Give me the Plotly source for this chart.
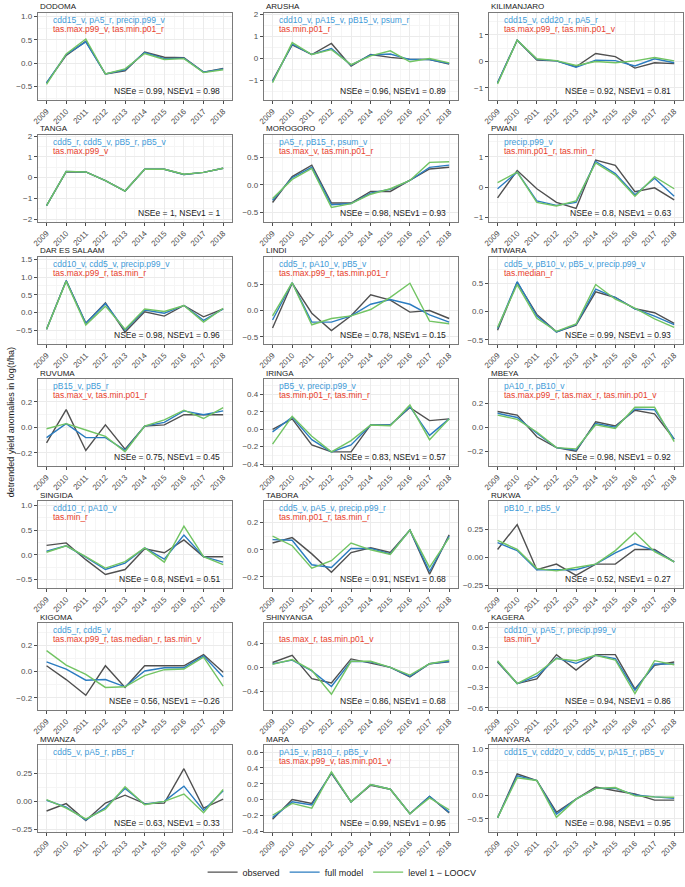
import plotly.graph_objects as go

years = list(range(2009, 2019))

regions = ["DODOMA", "ARUSHA", "KILIMANJARO", "TANGA", "MOROGORO", "PWANI",
           "DAR ES SALAAM", "LINDI", "MTWARA", "RUVUMA", "IRINGA", "MBEYA",
           "SINGIDA", "TABORA", "RUKWA", "KIGOMA", "SHINYANGA", "KAGERA",
           "MWANZA", "MARA", "MANYARA"]

# ---- series: observed / full model / level 1 - LOOCV ----
dodoma_obs   = [-0.42, 0.17, 0.47, -0.23, -0.16, 0.24, 0.13, 0.12, -0.19, -0.11]
dodoma_full  = [-0.42, 0.19, 0.46, -0.23, -0.14, 0.23, 0.10, 0.11, -0.19, -0.12]
dodoma_loocv = [-0.45, 0.20, 0.52, -0.23, -0.12, 0.21, 0.08, 0.10, -0.20, -0.14]

arusha_obs   = [-1.00, 0.62, 0.18, 0.68, -0.35, 0.18, 0.05, -0.03, -0.05, -0.25]
arusha_full  = [-1.05, 0.65, 0.18, 0.45, -0.30, 0.16, 0.20, -0.05, -0.05, -0.23]
arusha_loocv = [-1.10, 0.72, 0.18, 0.40, -0.28, 0.12, 0.35, -0.15, 0.00, -0.20]

kilimanjaro_obs   = [-0.80, 0.80, 0.05, 0.02, -0.20, 0.30, 0.18, -0.25, -0.05, -0.08]
kilimanjaro_full  = [-0.80, 0.80, 0.08, 0.02, -0.22, 0.05, 0.03, -0.17, 0.10, -0.05]
kilimanjaro_loocv = [-0.85, 0.80, 0.10, 0.03, -0.15, 0.00, -0.05, 0.02, 0.15, 0.02]

tanga_obs   = [-1.35, 0.28, 0.27, -0.15, -0.65, 0.40, 0.40, 0.15, 0.25, 0.45]
tanga_full  = [-1.35, 0.30, 0.27, -0.15, -0.65, 0.40, 0.40, 0.15, 0.25, 0.45]
tanga_loocv = [-1.35, 0.30, 0.27, -0.15, -0.65, 0.40, 0.40, 0.16, 0.25, 0.45]

morogoro_obs   = [-0.32, 0.15, 0.36, -0.33, -0.33, -0.12, -0.12, 0.08, 0.29, 0.32]
morogoro_full  = [-0.28, 0.13, 0.32, -0.36, -0.34, -0.15, -0.08, 0.08, 0.32, 0.36]
morogoro_loocv = [-0.25, 0.10, 0.30, -0.41, -0.34, -0.17, -0.07, 0.08, 0.41, 0.42]

pwani_obs   = [-0.35, 0.55, -0.05, -0.50, -0.70, 0.90, 0.72, -0.15, -0.02, -0.42]
pwani_full  = [-0.05, 0.50, -0.45, -0.60, -0.50, 0.85, 0.45, -0.25, 0.30, -0.30]
pwani_loocv = [0.15, 0.50, -0.50, -0.62, -0.45, 0.80, 0.40, -0.30, 0.35, -0.05]

dar_obs   = [-0.47, 0.90, -0.30, 0.27, -0.55, 0.02, -0.10, 0.20, -0.12, 0.10]
dar_full  = [-0.47, 0.90, -0.30, 0.25, -0.50, 0.07, -0.02, 0.20, -0.22, 0.10]
dar_loocv = [-0.47, 0.88, -0.35, 0.18, -0.47, 0.10, 0.03, 0.20, -0.27, 0.12]

lindi_obs   = [-0.33, 0.52, -0.05, -0.38, -0.10, 0.30, 0.20, -0.03, 0.00, -0.15]
lindi_full  = [-0.18, 0.53, -0.22, -0.22, -0.10, 0.12, 0.21, 0.12, -0.08, -0.22]
lindi_loocv = [-0.10, 0.53, -0.27, -0.15, -0.10, 0.02, 0.25, 0.52, -0.20, -0.25]

mtwara_obs   = [-0.33, 0.52, -0.05, -0.36, -0.24, 0.35, 0.25, 0.05, -0.02, -0.21]
mtwara_full  = [-0.30, 0.53, -0.08, -0.36, -0.23, 0.40, 0.25, 0.05, -0.08, -0.23]
mtwara_loocv = [-0.28, 0.48, -0.12, -0.35, -0.22, 0.48, 0.22, 0.06, -0.13, -0.28]

ruvuma_obs   = [-0.12, 0.14, -0.18, 0.02, -0.17, 0.01, 0.02, 0.10, 0.10, 0.10]
ruvuma_full  = [-0.08, 0.03, -0.08, -0.08, -0.18, 0.01, 0.04, 0.13, 0.10, 0.13]
ruvuma_loocv = [-0.01, 0.03, -0.02, -0.07, -0.19, 0.01, 0.06, 0.135, 0.07, 0.155]

iringa_obs   = [0.00, 0.12, -0.18, -0.26, -0.26, 0.05, 0.05, 0.25, 0.10, 0.12]
iringa_full  = [-0.03, 0.14, -0.12, -0.26, -0.18, 0.05, 0.05, 0.26, -0.07, 0.12]
iringa_loocv = [-0.17, 0.15, -0.08, -0.26, -0.13, 0.05, 0.04, 0.28, -0.12, 0.12]

mbeya_obs   = [0.13, 0.10, -0.08, -0.17, -0.20, 0.045, 0.01, 0.14, 0.11, -0.10]
mbeya_full  = [0.115, 0.08, -0.05, -0.17, -0.19, 0.03, 0.00, 0.15, 0.145, -0.10]
mbeya_loocv = [0.10, 0.065, -0.04, -0.17, -0.18, 0.02, -0.01, 0.165, 0.165, -0.12]

singida_obs   = [0.19, 0.24, -0.10, -0.40, -0.30, 0.12, 0.04, 0.30, -0.04, -0.04]
singida_full  = [0.07, 0.18, -0.05, -0.30, -0.17, 0.14, -0.09, 0.40, -0.04, -0.15]
singida_loocv = [0.05, 0.18, -0.04, -0.27, -0.14, 0.14, -0.15, 0.58, -0.04, -0.20]

tabora_obs   = [0.05, 0.09, -0.03, -0.165, -0.02, 0.015, -0.02, 0.145, -0.18, 0.11]
tabora_full  = [0.075, 0.07, -0.11, -0.13, 0.01, 0.01, -0.03, 0.145, -0.16, 0.10]
tabora_loocv = [0.10, 0.03, -0.135, -0.08, 0.05, 0.00, -0.035, 0.145, -0.13, 0.09]

rukwa_obs   = [0.07, 0.29, -0.11, -0.06, -0.16, -0.06, -0.06, 0.07, 0.07, -0.04]
rukwa_full  = [0.13, 0.06, -0.11, -0.11, -0.11, -0.06, 0.04, 0.12, 0.06, -0.04]
rukwa_loocv = [0.15, 0.07, -0.10, -0.12, -0.09, -0.06, 0.06, 0.22, 0.05, -0.04]

kigoma_obs   = [0.045, -0.06, -0.18, 0.045, -0.12, 0.045, 0.045, 0.045, 0.13, -0.005]
kigoma_full  = [0.075, 0.02, -0.065, -0.06, -0.115, 0.005, 0.03, 0.03, 0.12, -0.04]
kigoma_loocv = [0.16, 0.05, -0.02, -0.12, -0.115, -0.03, 0.015, 0.02, 0.11, -0.11]

shinyanga_obs   = [0.08, 0.20, -0.19, -0.26, 0.14, 0.07, 0.00, -0.16, 0.06, 0.09]
shinyanga_full  = [0.06, 0.12, -0.06, -0.32, 0.10, 0.09, 0.00, -0.15, 0.06, 0.10]
shinyanga_loocv = [0.05, 0.13, -0.05, -0.45, 0.10, 0.10, 0.00, -0.13, 0.06, 0.12]

kagera_obs   = [0.08, -0.24, -0.17, 0.19, -0.04, 0.19, 0.19, -0.32, 0.03, 0.08]
kagera_full  = [0.09, -0.24, -0.13, 0.14, 0.06, 0.18, 0.13, -0.34, 0.05, 0.05]
kagera_loocv = [0.10, -0.24, -0.09, 0.13, 0.10, 0.18, 0.11, -0.39, 0.10, 0.04]

mwanza_obs   = [-0.085, -0.02, -0.17, -0.015, 0.055, -0.02, -0.015, 0.29, -0.06, 0.02]
mwanza_full  = [0.01, -0.05, -0.165, -0.055, 0.115, -0.025, 0.00, 0.135, -0.08, 0.095]
mwanza_loocv = [0.015, -0.06, -0.155, -0.07, 0.13, -0.03, 0.00, 0.065, -0.10, 0.105]

mara_obs   = [-0.25, 0.00, -0.05, 0.33, -0.03, 0.18, 0.13, -0.18, 0.04, -0.17]
mara_full  = [-0.23, -0.03, -0.07, 0.34, -0.03, 0.19, 0.13, -0.18, 0.04, -0.16]
mara_loocv = [-0.20, -0.05, -0.11, 0.35, -0.03, 0.19, 0.13, -0.18, 0.02, -0.13]

manyara_obs   = [-0.48, 0.46, 0.32, -0.36, -0.08, 0.18, 0.10, 0.03, -0.10, -0.10]
manyara_full  = [-0.48, 0.42, 0.32, -0.40, -0.08, 0.15, 0.15, 0.01, -0.03, -0.06]
manyara_loocv = [-0.48, 0.38, 0.32, -0.47, -0.08, 0.15, 0.17, -0.01, -0.03, -0.04]

observed = [dodoma_obs, arusha_obs, kilimanjaro_obs, tanga_obs, morogoro_obs, pwani_obs,
            dar_obs, lindi_obs, mtwara_obs, ruvuma_obs, iringa_obs, mbeya_obs,
            singida_obs, tabora_obs, rukwa_obs, kigoma_obs, shinyanga_obs, kagera_obs,
            mwanza_obs, mara_obs, manyara_obs]
full_model = [dodoma_full, arusha_full, kilimanjaro_full, tanga_full, morogoro_full, pwani_full,
              dar_full, lindi_full, mtwara_full, ruvuma_full, iringa_full, mbeya_full,
              singida_full, tabora_full, rukwa_full, kigoma_full, shinyanga_full, kagera_full,
              mwanza_full, mara_full, manyara_full]
loocv = [dodoma_loocv, arusha_loocv, kilimanjaro_loocv, tanga_loocv, morogoro_loocv, pwani_loocv,
         dar_loocv, lindi_loocv, mtwara_loocv, ruvuma_loocv, iringa_loocv, mbeya_loocv,
         singida_loocv, tabora_loocv, rukwa_loocv, kigoma_loocv, shinyanga_loocv, kagera_loocv,
         mwanza_loocv, mara_loocv, manyara_loocv]

# ---- texts ----
vars_blue = ["cdd15_v, pA5_r, precip.p99_v", "cdd10_v, pA15_v, pB15_v, psum_r", "cdd15_v, cdd20_r, pA5_r",
             "cdd5_r, cdd5_v, pB5_r, pB5_v", "pA5_r, pB15_r, psum_v", "precip.p99_v",
             "cdd10_v, cdd5_v, precip.p99_v", "cdd5_r, pA10_v, pB5_v", "cdd5_v, pB10_v, pB5_v, precip.p99_v",
             "pB15_v, pB5_r", "pB5_v, precip.p99_v", "pA10_r, pB10_v",
             "cdd10_r, pA10_v", "cdd5_v, pA5_v, precip.p99_r", "pB10_r, pB5_v",
             "cdd5_r, cdd5_v", "", "cdd10_v, pA5_r, precip.p99_v",
             "cdd5_v, pA5_r, pB5_r", "pA15_v, pB10_r, pB5_v", "cdd15_v, cdd20_v, cdd5_v, pA15_r, pB5_v"]
vars_red = ["tas.max.p99_v, tas.min.p01_r", "tas.min.p01_r", "tas.max.p99_r, tas.min.p01_v",
            "tas.max.p99_v", "tas.max_v, tas.min.p01_r", "tas.min.p01_r, tas.min_r",
            "tas.max.p99_r, tas.min_r", "tas.max.p99_r, tas.min.p01_r", "tas.median_r",
            "tas.max_v, tas.min.p01_r", "tas.min.p01_r, tas.min_r", "tas.max.p99_r, tas.max_r, tas.min.p01_v",
            "tas.min_r", "tas.min.p01_r, tas.min_r", "",
            "tas.max.p99_r, tas.median_r, tas.min_v", "tas.max_r, tas.min.p01_v", "tas.min_v",
            "", "tas.max.p99_v, tas.min.p01_v", ""]
nse_labels = ["NSEe = 0.99, NSEv1 = 0.98", "NSEe = 0.96, NSEv1 = 0.89", "NSEe = 0.92, NSEv1 = 0.81",
              "NSEe = 1, NSEv1 = 1", "NSEe = 0.98, NSEv1 = 0.93", "NSEe = 0.8, NSEv1 = 0.63",
              "NSEe = 0.98, NSEv1 = 0.96", "NSEe = 0.78, NSEv1 = 0.15", "NSEe = 0.99, NSEv1 = 0.93",
              "NSEe = 0.75, NSEv1 = 0.45", "NSEe = 0.83, NSEv1 = 0.57", "NSEe = 0.98, NSEv1 = 0.92",
              "NSEe = 0.8, NSEv1 = 0.51", "NSEe = 0.91, NSEv1 = 0.68", "NSEe = 0.52, NSEv1 = 0.27",
              "NSEe = 0.56, NSEv1 = \u22120.26", "NSEe = 0.86, NSEv1 = 0.68", "NSEe = 0.94, NSEv1 = 0.86",
              "NSEe = 0.63, NSEv1 = 0.33", "NSEe = 0.99, NSEv1 = 0.95", "NSEe = 0.98, NSEv1 = 0.95"]

# ---- y scales ----
y_ranges = [[-0.78, 1.08], [-1.87, 2.07], [-1.44, 1.83],
            [-2.13, 2.06], [-0.67, 0.91], [-1.14, 1.73],
            [-0.88, 1.57], [-0.63, 1.02], [-0.57, 0.97],
            [-0.30, 0.38], [-0.42, 0.58], [-0.32, 0.40],
            [-0.67, 1.09], [-0.28, 0.36], [-0.27, 0.50],
            [-0.29, 0.37], [-0.71, 0.74], [-0.63, 0.66],
            [-0.27, 0.50], [-0.41, 0.69], [-0.78, 1.08]]
y_ticks = [[-0.5, 0.0, 0.5, 1.0], [-1, 0, 1, 2], [-1, 0, 1],
           [-2, -1, 0, 1, 2], [-0.5, 0.0, 0.5], [-1, 0, 1],
           [-0.5, 0.0, 0.5, 1.0, 1.5], [-0.5, 0.0, 0.5], [-0.5, 0.0, 0.5],
           [-0.2, 0.0, 0.2], [-0.4, -0.2, 0.0, 0.2, 0.4], [-0.2, 0.0, 0.2],
           [-0.5, 0.0, 0.5, 1.0], [-0.2, 0.0, 0.2], [-0.25, 0.0, 0.25],
           [-0.2, 0.0, 0.2], [-0.4, 0.0, 0.4], [-0.6, -0.3, 0.0, 0.3, 0.6],
           [-0.25, 0.0, 0.25], [-0.4, -0.2, 0.0, 0.2, 0.4, 0.6], [-0.5, 0.0, 0.5, 1.0]]
y_decimals = [1, 0, 0, 0, 1, 0, 1, 1, 1, 1, 1, 1, 1, 1, 2, 1, 1, 1, 2, 1, 1]

series_names = ["observed", "full model", "level 1 \u2212 LOOCV"]

# ---- styling / layout ----
W, H = 685, 887
FONT = "Liberation Sans, Arial, Helvetica, sans-serif"
line_colors = ["#505050", "#2B7CC0", "#72C463"]
blue_txt = "#3F9BD8"
red_txt = "#E8412C"
col_left = [32, 260, 487]
panel_w = 196
row_top0 = 10.0
row_pitch = 123.7
panel_h = 88.0


def fmt(v, d):
    s = f"{abs(v):.{d}f}"
    return ("\u2212" + s) if v < 0 else s


def minors(ticks, lo, hi):
    if len(ticks) < 2:
        return []
    step = ticks[1] - ticks[0]
    out = []
    t = ticks[0] - step / 2
    while t <= hi:
        if t >= lo and all(abs(t - m) > 1e-9 for m in ticks):
            out.append(t)
        t += step
    return out


fig = go.Figure()
layout = dict(
    width=W, height=H,
    margin=dict(l=0, r=0, t=0, b=0),
    paper_bgcolor="white", plot_bgcolor="white",
    font=dict(family=FONT, size=8, color="#4D4D4D"),
    showlegend=True,
    legend=dict(orientation="h", x=0.495, xanchor="center", y=1 - 881 / H, yanchor="middle",
                font=dict(family=FONT, size=9, color="#1A1A1A"),
                bgcolor="rgba(0,0,0,0)", itemwidth=30, tracegroupgap=0),
)
annotations = []

for i, reg in enumerate(regions):
    r, c = divmod(i, 3)
    n = "" if i == 0 else str(i + 1)
    x0 = col_left[c] / W
    x1 = (col_left[c] + panel_w) / W
    ytop = row_top0 + r * row_pitch
    ybot = ytop + panel_h
    yd = [1 - ybot / H, 1 - ytop / H]

    for k, (data, name) in enumerate(zip([observed[i], full_model[i], loocv[i]], series_names)):
        fig.add_trace(go.Scatter(
            x=years, y=data, mode="lines", name=name,
            line=dict(color=line_colors[k], width=1.4),
            xaxis="x" + n, yaxis="y" + n,
            legendgroup=name, showlegend=(i == 0),
        ))

    xmin, xmax = years[0] - 0.45, years[-1] + 0.45
    layout["xaxis" + n] = dict(
        domain=[x0, x1], anchor="y" + n, range=[xmin, xmax],
        tickmode="array", tickvals=years, ticktext=[str(y) for y in years],
        tickangle=-45, tickfont=dict(size=8, color="#4D4D4D", family=FONT),
        ticks="outside", ticklen=3, tickwidth=0.7, tickcolor="#4D4D4D",
        showgrid=True, gridcolor="#EBEBEB", gridwidth=0.9,
        minor=dict(tickvals=[y + 0.5 for y in years[:-1]], showgrid=True,
                   gridcolor="#F5F5F5", gridwidth=0.5, ticks=""),
        zeroline=False, showline=True, mirror=True, linecolor="#7A7A7A", linewidth=0.9,
        fixedrange=True,
    )
    lo, hi = y_ranges[i]
    layout["yaxis" + n] = dict(
        domain=yd, anchor="x" + n, range=[lo, hi],
        tickmode="array", tickvals=y_ticks[i],
        ticktext=[fmt(v, y_decimals[i]) for v in y_ticks[i]],
        tickfont=dict(size=8, color="#4D4D4D", family=FONT),
        ticks="outside", ticklen=3, tickwidth=0.7, tickcolor="#4D4D4D",
        showgrid=True, gridcolor="#EBEBEB", gridwidth=0.9,
        minor=dict(tickvals=minors(y_ticks[i], lo, hi), showgrid=True,
                   gridcolor="#F5F5F5", gridwidth=0.5, ticks=""),
        zeroline=False, showline=True, mirror=True, linecolor="#7A7A7A", linewidth=0.9,
        fixedrange=True,
    )

    # panel title
    annotations.append(dict(text=reg, xref="paper", yref="paper", x=x0, y=1 - (ytop - 6) / H,
                            xanchor="left", yanchor="middle", showarrow=False,
                            font=dict(size=8, color="#1A1A1A", family=FONT)))
    dx = "x" + n + " domain"
    dy = "y" + n + " domain"
    if vars_blue[i]:
        annotations.append(dict(text=vars_blue[i], xref=dx, yref=dy, x=0.066, y=1 - 7.5 / panel_h,
                                xanchor="left", yanchor="middle", showarrow=False,
                                font=dict(size=8.5, color=blue_txt, family=FONT)))
    if vars_red[i]:
        annotations.append(dict(text=vars_red[i], xref=dx, yref=dy, x=0.066, y=1 - 16.5 / panel_h,
                                xanchor="left", yanchor="middle", showarrow=False,
                                font=dict(size=8.5, color=red_txt, family=FONT)))
    annotations.append(dict(text=nse_labels[i], xref=dx, yref=dy, x=0.946, y=8.5 / panel_h,
                            xanchor="right", yanchor="middle", showarrow=False,
                            font=dict(size=8.5, color="#1A1A1A", family=FONT)))

# y-axis title
annotations.append(dict(text="detrended yield anomalies in log(t/ha)", xref="paper", yref="paper",
                        x=5 / W, y=1 - 425 / H, xanchor="center", yanchor="middle",
                        textangle=-90, showarrow=False,
                        font=dict(size=9, color="#1A1A1A", family=FONT)))

layout["annotations"] = annotations
fig.update_layout(**layout)
fig.write_html(
    "out.html",
    config={"displayModeBar": False},
    post_script="document.body.style.margin='0';document.body.style.overflow='hidden';",
)
